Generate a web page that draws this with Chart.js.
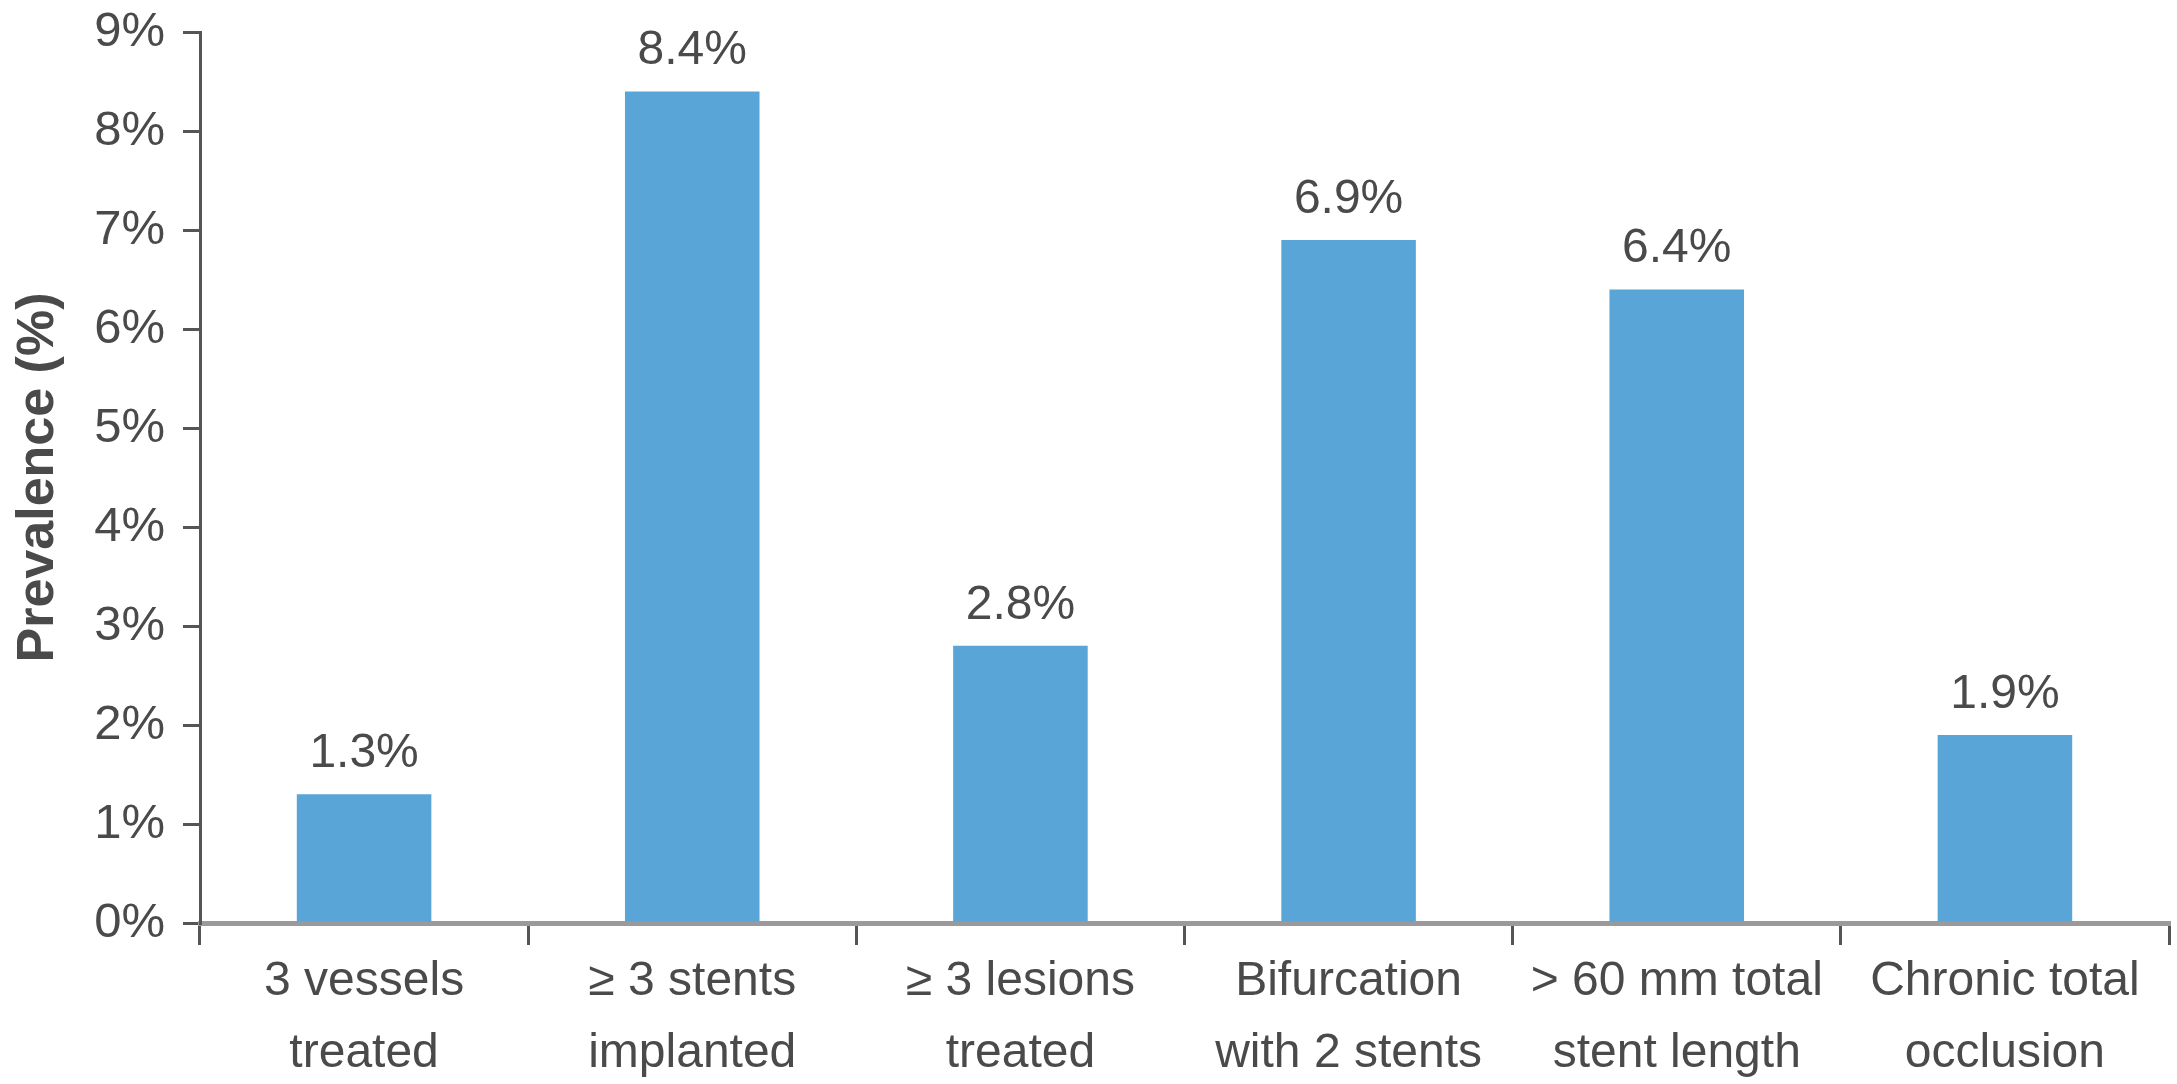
<!DOCTYPE html>
<html>
<head>
<meta charset="utf-8">
<script src="https://cdn.jsdelivr.net/npm/chart.js@4"></script>
<style>
  html, body { margin: 0; padding: 0; background: #fff; }
  #wrap { width: 2177px; height: 1084px; }
</style>
</head>
<body>
<div id="wrap"><canvas id="chart" width="2177" height="1084"></canvas></div>
<script>
// values
const categories = [
  ['3 vessels', 'treated'],
  ['\u2265 3 stents', 'implanted'],
  ['\u2265 3 lesions', 'treated'],
  ['Bifurcation', 'with 2 stents'],
  ['> 60 mm total', 'stent length'],
  ['Chronic total', 'occlusion']
];
const prevalence = [1.3, 8.4, 2.8, 6.9, 6.4, 1.9];
const yTicks = [0, 1, 2, 3, 4, 5, 6, 7, 8, 9];

const textColor = '#4a4a4a';
const fontFamily = '"Liberation Sans", Arial, sans-serif';

// value labels over the bars
const barLabels = {
  id: 'barLabels',
  afterDatasetsDraw(chart) {
    const ctx = chart.ctx;
    const meta = chart.getDatasetMeta(0);
    ctx.save();
    ctx.fillStyle = textColor;
    ctx.font = '48px ' + fontFamily;
    ctx.textAlign = 'center';
    ctx.textBaseline = 'alphabetic';
    meta.data.forEach((bar, i) => {
      ctx.fillText(prevalence[i].toFixed(1) + '%', bar.x, bar.y - 27);
    });
    ctx.restore();
  }
};

const ctx = document.getElementById('chart').getContext('2d');
new Chart(ctx, {
  type: 'bar',
  data: {
    labels: categories,
    datasets: [{
      data: prevalence,
      backgroundColor: '#5aa5d8',
      borderWidth: 0,
      categoryPercentage: 1,
      barPercentage: 0.41
    }]
  },
  options: {
    responsive: false,
    animation: false,
    layout: { padding: { top: 32, right: 8, left: 0, bottom: 0 } },
    plugins: {
      legend: { display: false },
      tooltip: { enabled: false }
    },
    scales: {
      x: {
        offset: true,
        grid: {
          offset: true,
          drawOnChartArea: false,
          drawTicks: true,
          tickLength: 22,
          color: '#555',
          lineWidth: 3
        },
        border: { color: '#9a9a9a', width: 5 },
        ticks: {
          color: textColor,
          padding: 1,
          maxRotation: 0,
          autoSkip: false,
          font: { family: fontFamily, size: 48, lineHeight: 1.5 }
        },
        afterFit(scale) { scale.height = 161; }
      },
      y: {
        min: 0,
        max: 9,
        afterBuildTicks(scale) { scale.ticks = yTicks.map(v => ({ value: v })); },
        grid: {
          drawOnChartArea: false,
          drawTicks: true,
          tickLength: 17,
          color: '#555',
          lineWidth: 3
        },
        border: { color: '#555', width: 3 },
        ticks: {
          color: textColor,
          padding: 18,
          font: { family: fontFamily, size: 49 },
          callback: v => v + '%'
        },
        title: {
          display: true,
          text: 'Prevalence (%)',
          color: textColor,
          padding: { top: 7, bottom: 0 },
          font: { family: fontFamily, size: 52, weight: 'bold', lineHeight: 1.2 }
        },
        afterFit(scale) {
          scale.width = 200;
          scale.paddingTop = 0;
          scale.paddingBottom = 0;
        }
      }
    }
  },
  plugins: [barLabels]
});
</script>
</body>
</html>
